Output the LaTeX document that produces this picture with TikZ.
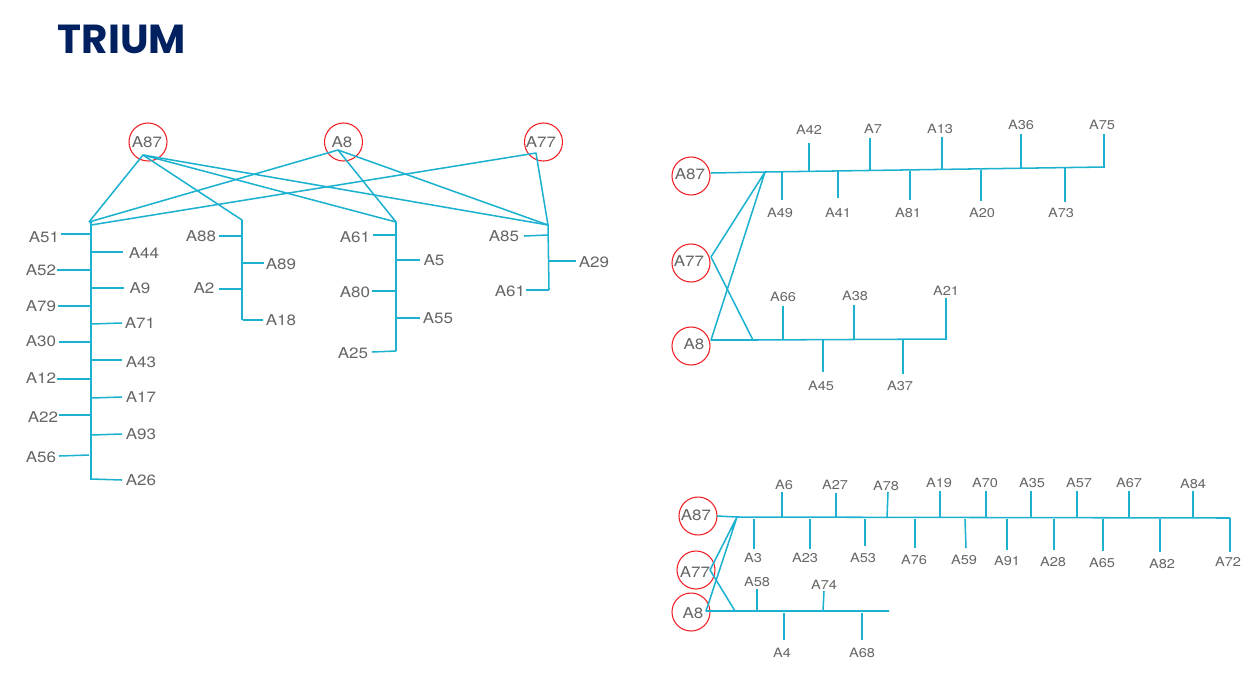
\documentclass[tikz,border=0pt]{standalone}
\usepackage{fontspec}
\setmainfont[FakeStretch=1.14]{TeX Gyre Heros}
\newfontfamily\titlefont{Poppins}
\definecolor{linkc}{HTML}{1DB1D0}
\definecolor{ringc}{HTML}{F02025}
\definecolor{labelc}{HTML}{666666}
\definecolor{titlec}{HTML}{002060}
\tikzset{
  x=0.75pt,y=-0.75pt,
  link/.style={draw=linkc,line width=1.15pt,line join=round},
  ring/.style={circle,draw=ringc,line width=0.8pt,minimum size=28.5pt,inner sep=0pt},
  biglabel/.style={text=labelc,font=\fontsize{11.2pt}{12pt}\selectfont,inner sep=0pt},
  smalllabel/.style={text=labelc,font=\fontsize{9.6pt}{11pt}\selectfont,inner sep=0pt,yshift=-0.75pt},
}
% \stem{name}{text}{label x,y}{start x,y}{end x,y}{label style}
\newcommand{\stem}[6]{%
  \node[#6] (#1) at (#3) {#2};
  \coordinate (#1s) at (#4);
  \coordinate (#1e) at (#5);
  \draw[link] (#1s) -- (#1e);
}
% \hub{name}{text}{circle x,y}{text x,y}
\newcommand{\hub}[4]{%
  \node[ring] (#1) at (#3) {};
  \node[biglabel] (#1t) at (#4) {#2};
}
\begin{document}
\begin{tikzpicture}
\useasboundingbox (0,0) rectangle (1249,676);
\node[text=titlec,font=\titlefont\bfseries\fontsize{30.4pt}{32pt}\selectfont,inner sep=0pt] (title) at (122,39) {TRIUM};

% ---- left tree ----
\hub{la}{A87}{148,142}{147,142}
\hub{lb}{A8}{343.5,142}{342,142}
\hub{lc}{A77}{543.5,142}{541,142}
\coordinate (pa) at (143,155);
\coordinate (pb) at (338,150);
\coordinate (pc) at (536,153);
\coordinate (t1) at (89,222);
\coordinate (t1b) at (91,225);
\coordinate (t1s) at (91,222);
\coordinate (t1e) at (91,480);
\coordinate (t2) at (242,220);
\coordinate (t2e) at (242,320);
\coordinate (t3) at (396,222);
\coordinate (t3e) at (396,351);
\coordinate (t4) at (548,225);
\coordinate (t4e) at (549,290);
\draw[link] (t1) -- (pa) -- (t2) -- (t2e);
\draw[link] (pa) -- (t3) -- (t3e);
\draw[link] (pa) -- (t4) -- (t4e);
\draw[link] (t1) -- (pb) -- (t3);
\draw[link] (pb) -- (t4);
\draw[link] (t1b) -- (pc) -- (t4);
\draw[link] (t1s) -- (t1e);

\stem{n1}{A51}{44,237}{61,234}{90,234}{biglabel}
\stem{n2}{A44}{144,253}{91,252}{123,252}{biglabel}
\stem{n3}{A52}{41,270}{57,270}{90,270}{biglabel}
\stem{n4}{A9}{140,288}{91,288}{124,288}{biglabel}
\stem{n5}{A79}{41,306}{58,306}{90,306}{biglabel}
\stem{n6}{A71}{140,323}{91,324}{122,323}{biglabel}
\stem{n7}{A30}{41,341}{59,342}{90,342}{biglabel}
\stem{n8}{A43}{141,362}{91,360}{122,360}{biglabel}
\stem{n9}{A12}{41,378}{57,379}{90,379}{biglabel}
\stem{n10}{A17}{141,397}{91,398}{122,397}{biglabel}
\stem{n11}{A22}{43,417}{59,415}{90,415}{biglabel}
\stem{n12}{A93}{141,434}{91,435}{122,434}{biglabel}
\stem{n13}{A56}{41,457}{59,456}{89,455}{biglabel}
\stem{n14}{A26}{141,480}{91,479}{122,480}{biglabel}
\stem{n15}{A88}{201,236}{219,236}{242,236}{biglabel}
\stem{n16}{A89}{281,264}{243,263}{264,263}{biglabel}
\stem{n17}{A2}{204,288}{219,289}{242,289}{biglabel}
\stem{n18}{A18}{281,320}{243,320}{263,320}{biglabel}
\stem{n19}{A61}{355,237}{373,235}{396,235}{biglabel}
\stem{n20}{A5}{434,260}{396,260}{420,260}{biglabel}
\stem{n21}{A80}{355,292}{372,291}{396,291}{biglabel}
\stem{n22}{A55}{438,318}{396,318}{420,318}{biglabel}
\stem{n23}{A25}{353,353}{372,352}{396,351}{biglabel}
\stem{n24}{A85}{504,236}{524,236}{548,235}{biglabel}
\stem{n25}{A29}{594,262}{549,261}{576,261}{biglabel}
\stem{n26}{A61}{510,291}{526,290}{549,290}{biglabel}

% ---- upper right ----
\hub{ma}{A87}{691,176}{690,174}
\hub{mb}{A77}{691,263}{689,261}
\hub{mc}{A8}{691,346}{694,344}
\coordinate (ma1) at (711,173);
\coordinate (ma2) at (765,172);
\coordinate (ma3) at (1105,167);
\coordinate (mb1) at (711,257);
\coordinate (mc1) at (711,340);
\coordinate (mc2) at (753,340);
\coordinate (mc3) at (947,339);
\draw[link] (ma1) -- (ma2) -- (ma3);
\draw[link] (mb1) -- (ma2) -- (mc1) -- (mc2) -- (mc3);
\draw[link] (mb1) -- (mc2);

\stem{m1}{A42}{809,129}{809,171}{809,143}{smalllabel}
\stem{m2}{A7}{873,128}{870,170}{870,138}{smalllabel}
\stem{m3}{A13}{940,128}{942,169}{942,137}{smalllabel}
\stem{m4}{A36}{1021,124}{1021,168}{1021,134}{smalllabel}
\stem{m5}{A75}{1102,124}{1104,167}{1104,134}{smalllabel}
\stem{m6}{A49}{780,212}{782,172}{782,200}{smalllabel}
\stem{m7}{A41}{838,212}{838,171}{838,198}{smalllabel}
\stem{m8}{A81}{908,212}{910,171}{910,200}{smalllabel}
\stem{m9}{A20}{982,212}{981,170}{981,201}{smalllabel}
\stem{m10}{A73}{1061,212}{1065,168}{1065,202}{smalllabel}
\stem{m11}{A66}{783,296}{783,340}{783,306}{smalllabel}
\stem{m12}{A38}{855,295}{854,339}{854,305}{smalllabel}
\stem{m13}{A21}{946,290}{946,339}{946,298}{smalllabel}
\stem{m14}{A45}{821,385}{823,340}{823,372}{smalllabel}
\stem{m15}{A37}{900,385}{903,340}{903,374}{smalllabel}

% ---- lower right ----
\hub{ba}{A87}{698,516}{696,515}
\hub{bb}{A77}{696,570}{695,572}
\hub{bc}{A8}{691,612}{693,613}
\coordinate (ba1) at (717,516);
\coordinate (ba2) at (737,517);
\coordinate (ba3) at (1230,518);
\coordinate (bb1) at (710,570);
\coordinate (bc1) at (706,611);
\coordinate (bc2) at (735,611);
\coordinate (bc3) at (889,611);
\draw[link] (ba1) -- (ba2) -- (ba3);
\draw[link] (bb1) -- (ba2) -- (bc1) -- (bc2) -- (bc3);
\draw[link] (bb1) -- (bc2);

\stem{b1}{A6}{784,484}{782,517}{782,492}{smalllabel}
\stem{b2}{A27}{835,484}{836,517}{836,493}{smalllabel}
\stem{b3}{A78}{886,485}{887,518}{888,492}{smalllabel}
\stem{b4}{A19}{939,482}{940,518}{940,491}{smalllabel}
\stem{b5}{A70}{985,482}{986,518}{986,491}{smalllabel}
\stem{b6}{A35}{1032,482}{1031,518}{1031,491}{smalllabel}
\stem{b7}{A57}{1079,482}{1077,518}{1077,491}{smalllabel}
\stem{b8}{A67}{1129,482}{1129,518}{1129,491}{smalllabel}
\stem{b9}{A84}{1193,483}{1193,518}{1193,491}{smalllabel}
\stem{b10}{A3}{753,557}{754,519}{754,549}{smalllabel}
\stem{b11}{A23}{805,557}{810,519}{810,549}{smalllabel}
\stem{b12}{A53}{863,557}{865,519}{865,546}{smalllabel}
\stem{b13}{A76}{914,559}{915,519}{915,548}{smalllabel}
\stem{b14}{A59}{964,559}{965,519}{966,548}{smalllabel}
\stem{b15}{A91}{1007,560}{1007,519}{1007,550}{smalllabel}
\stem{b16}{A28}{1053,561}{1054,519}{1054,550}{smalllabel}
\stem{b17}{A65}{1102,562}{1103,519}{1103,551}{smalllabel}
\stem{b18}{A82}{1162,563}{1160,519}{1160,552}{smalllabel}
\stem{b19}{A72}{1228,561}{1230,518}{1230,552}{smalllabel}
\stem{b20}{A58}{757,581}{757,611}{757,589}{smalllabel}
\stem{b21}{A74}{824,584}{823,611}{824,591}{smalllabel}
\stem{b22}{A4}{782,652}{784,613}{784,640}{smalllabel}
\stem{b23}{A68}{862,652}{862,613}{862,640}{smalllabel}
\end{tikzpicture}
\end{document}
